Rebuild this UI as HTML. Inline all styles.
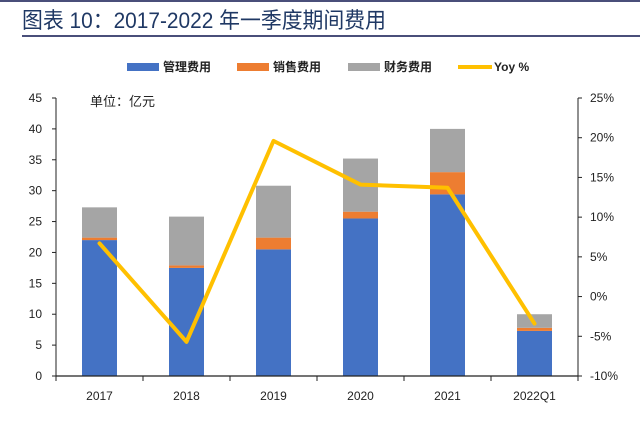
<!DOCTYPE html>
<html><head><meta charset="utf-8"><style>
body{margin:0;background:#fff;}
svg{display:block;font-family:"Liberation Sans","Noto Sans CJK SC",sans-serif;}
</style></head><body>
<svg id="c" width="640" height="421">
<rect x="0" y="0" width="640" height="2" fill="#4a4f7a"/>
<text x="22" y="28" font-size="22" fill="#1f3864" textLength="364" lengthAdjust="spacingAndGlyphs">图表 10：2017-2022 年一季度期间费用</text>
<rect x="22" y="35" width="618" height="2" fill="#4a4f7a"/>
<g font-size="12" font-weight="bold" fill="#222">
<rect x="127" y="63" width="32" height="8" fill="#4472c4"/>
<text x="163" y="71">管理费用</text>
<rect x="237" y="63" width="32" height="8" fill="#ed7d31"/>
<text x="273" y="71">销售费用</text>
<rect x="348" y="63" width="32" height="8" fill="#a5a5a5"/>
<text x="384" y="71">财务费用</text>
<rect x="458" y="65" width="34" height="4" fill="#ffc000"/>
<text x="494" y="71">Yoy %</text>
</g>
<text x="90" y="106" font-size="13" fill="#222">单位：亿元</text>
<g id="plot"></g>
</svg>
<script>
const categories=["2017","2018","2019","2020","2021","2022Q1"];
const adminVals=[22,17.5,20.5,25.5,29.4,7.3];
const salesVals=[0.4,0.4,1.9,1.1,3.6,0.5];
const financeVals=[4.9,7.9,8.4,8.6,7,2.2];
const yoyVals=[6.7,-5.7,19.6,14.1,13.7,-3.4];
const leftTicks=[0,5,10,15,20,25,30,35,40,45];
const rightTicks=[-10,-5,0,5,10,15,20,25];
const L=56,R=578,T=98,B=376;
const yL=v=>B-(v/45)*(B-T);
const yR=v=>B-((v+10)/35)*(B-T);
const step=(R-L)/categories.length;
const xc=i=>L+step*(i+0.5);
const NS="http://www.w3.org/2000/svg";
const g=document.getElementById('plot');
function mk(t,a){const e=document.createElementNS(NS,t);for(const k in a)e.setAttribute(k,a[k]);g.appendChild(e);return e;}
const bw=35;
categories.forEach((c,i)=>{
  let base=0;
  [[adminVals,'#4472c4','admin'],[salesVals,'#ed7d31','sales'],[financeVals,'#a5a5a5','finance']].forEach(([arr,col,n])=>{
    const v=arr[i];
    const r=mk('rect',{x:xc(i)-bw/2,y:yL(base+v),width:bw,height:yL(base)-yL(base+v),fill:col});
    
    
    base+=v;
  });
  const t=mk('text',{x:xc(i),y:B+24,'font-size':12,'text-anchor':'middle',fill:'#222'});
  t.textContent=c;
  
  
});
const ax=mk('line',{x1:L,y1:B,x2:R,y2:B,stroke:'#222','stroke-width':1.3});


for(let i=0;i<=categories.length;i++){const tk=mk('line',{x1:L+step*i,y1:B,x2:L+step*i,y2:B+5,stroke:'#222'});

}
const la=mk('line',{x1:L,y1:T,x2:L,y2:B,stroke:'#222'});


const ra=mk('line',{x1:R,y1:T,x2:R,y2:B,stroke:'#222'});


leftTicks.forEach(v=>{
  const tk=mk('line',{x1:L-4,y1:yL(v),x2:L,y2:yL(v),stroke:'#222'});
  
  
  const t=mk('text',{x:L-14,y:yL(v)+4,'font-size':12,'text-anchor':'end',fill:'#222'});
  t.textContent=v;
  
  
});
rightTicks.forEach(v=>{
  const tk=mk('line',{x1:R,y1:yR(v),x2:R+4,y2:yR(v),stroke:'#222'});
  
  
  const t=mk('text',{x:R+12,y:yR(v)+4,'font-size':12,fill:'#222'});
  t.textContent=v+'%';
  
  
});
const pl=mk('polyline',{points:yoyVals.map((v,i)=>xc(i)+','+yR(v)).join(' '),fill:'none',stroke:'#ffc000','stroke-width':4,'stroke-linejoin':'round','stroke-linecap':'round'});


</script>
</body></html>
